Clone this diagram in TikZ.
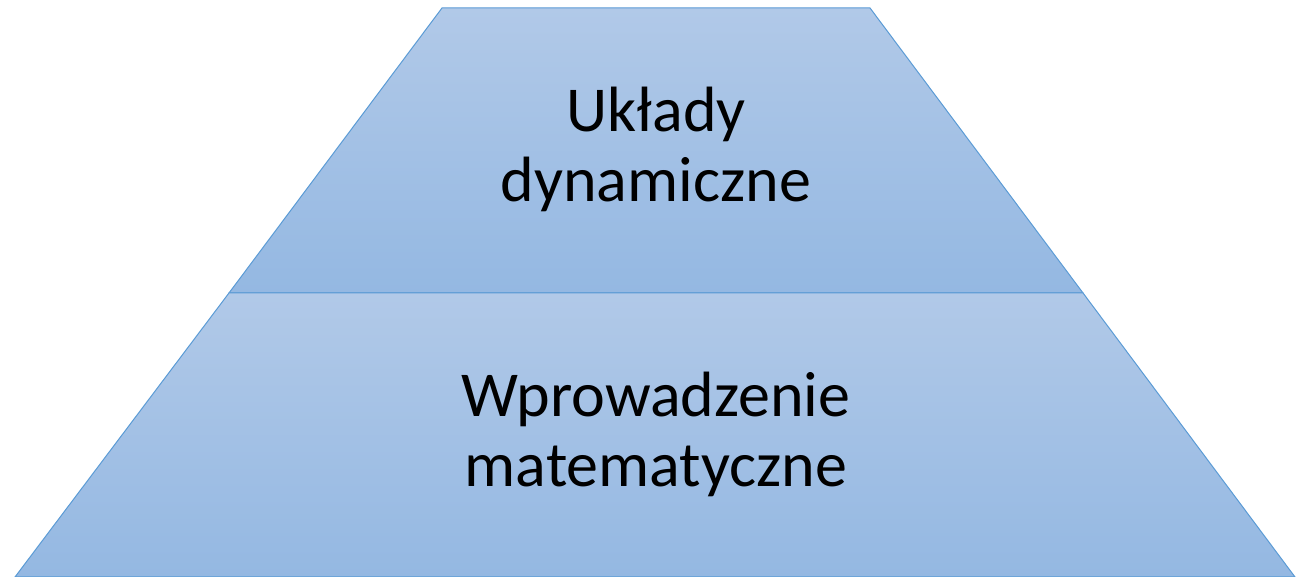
\documentclass[tikz,border=0pt]{standalone}
\usepackage{fontspec}
\setmainfont{Carlito}
\definecolor{gtop}{HTML}{B1C9E8}
\definecolor{gbot}{HTML}{94B8E2}
\definecolor{edge}{HTML}{5B9BD5}
\tikzset{layer/.style={draw=edge, line width=1pt, top color=gtop, bottom color=gbot, line join=miter},
  label/.style={align=center, font=\fontsize{64}{70}\selectfont, text=black}}
\begin{document}
\begin{tikzpicture}[x=1pt,y=1pt]
\useasboundingbox (0,0) rectangle (1307,577);
\draw[layer] (229,284) -- (442,569) -- (870,569) -- (1083,284) -- cycle;
\draw[layer] (15,0) -- (229,284) -- (1083,284) -- (1295,0) -- cycle;
\node[label] (top) at (656,428) {Układy\\dynamiczne};
\node[label] (bot) at (656,143) {Wprowadzenie\\matematyczne};
\end{tikzpicture}
\end{document}
